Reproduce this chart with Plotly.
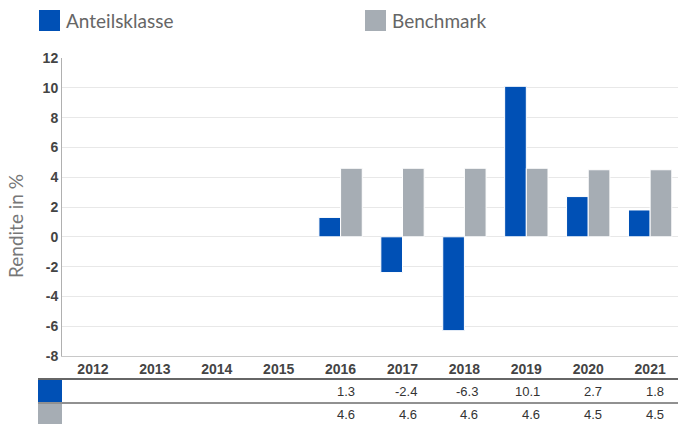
import plotly.graph_objects as go

years = ["2012", "2013", "2014", "2015", "2016", "2017", "2018", "2019", "2020", "2021"]
fund = [None, None, None, None, 1.3, -2.4, -6.3, 10.1, 2.7, 1.8]
bench = [None, None, None, None, 4.6, 4.6, 4.6, 4.6, 4.5, 4.5]
series_names = ["Anteilsklasse", "Benchmark"]
y_ticks = [-8, -6, -4, -2, 0, 2, 4, 6, 8, 10, 12]
y_title = "Rendite in %"

BLUE = "#0050B5"
GRAY = "#A6ADB4"

W, H = 678, 424
L, R, T, B = 62, 0, 58, 68
PW, PH = W - L - R, H - T - B


def px(x):
    return (x - L) / PW


def py(y):
    return (H - B - y) / PH


fig = go.Figure()
fig.add_trace(go.Bar(x=years, y=fund, name=series_names[0], marker=dict(color=BLUE, line=dict(color="white", width=1))))
fig.add_trace(go.Bar(x=years, y=bench, name=series_names[1], marker=dict(color=GRAY, line=dict(color="white", width=1))))

shapes = []
annotations = []

LEG_FONT = "Lato, Open Sans, sans-serif"

# legend
for sx, color, name in [(39, BLUE, series_names[0]), (365, GRAY, series_names[1])]:
    shapes.append(dict(type="rect", xref="paper", yref="paper", x0=px(sx), x1=px(sx + 21),
                       y0=py(31), y1=py(10), fillcolor=color, line=dict(width=0)))
    annotations.append(dict(xref="paper", yref="paper", x=px(sx + 25), y=py(21), text=name,
                            showarrow=False, xanchor="left", yanchor="middle",
                            font=dict(family=LEG_FONT, size=19, color="#666")))

# y-axis title
annotations.append(dict(xref="paper", yref="paper", x=px(15), y=py(226), text=y_title, textangle=-90,
                        showarrow=False, xanchor="center", yanchor="middle",
                        font=dict(family=LEG_FONT, size=19, color="#777")))

# table
shapes.append(dict(type="line", xref="paper", yref="paper", x0=px(38), x1=px(678), y0=py(379), y1=py(379),
                   line=dict(color="#333", width=1.5)))
shapes.append(dict(type="line", xref="paper", yref="paper", x0=px(38), x1=px(678), y0=py(403), y1=py(403),
                   line=dict(color="#222", width=1)))
shapes.append(dict(type="rect", xref="paper", yref="paper", x0=px(38), x1=px(62), y0=py(402), y1=py(380),
                   fillcolor=BLUE, line=dict(width=0)))
shapes.append(dict(type="rect", xref="paper", yref="paper", x0=px(38), x1=px(62), y0=py(424), y1=py(404),
                   fillcolor=GRAY, line=dict(width=0)))

for row_vals, ypix in [(fund, 391), (bench, 415)]:
    for i, v in enumerate(row_vals):
        if v is None:
            continue
        annotations.append(dict(xref="x", yref="paper", x=i, xshift=16, y=py(ypix), text=f"{v:.1f}",
                                showarrow=False, xanchor="right", yanchor="middle",
                                font=dict(family="Liberation Sans, Arial", size=13, color="#333")))

fig.update_layout(
    width=W, height=H,
    margin=dict(l=L, r=R, t=T, b=B, autoexpand=False),
    paper_bgcolor="white", plot_bgcolor="white",
    barmode="group", bargap=0.3, bargroupgap=0,
    showlegend=False,
    shapes=shapes, annotations=annotations,
    xaxis=dict(type="category", categoryorder="array", categoryarray=years, range=[-0.5, 9.45],
               showline=True, linecolor="#c8c8c8", linewidth=1, showgrid=False, automargin=False,
               tickfont=dict(family="Liberation Sans, Arial", size=14, color="#444", weight=700),
               ticks=""),
    yaxis=dict(range=[-8, 12], tickvals=y_ticks, ticktext=[str(v) for v in y_ticks],
               showgrid=True, gridcolor="#e8e8e8", gridwidth=1, automargin=False,
               zeroline=False, showline=True, linecolor="#b0b0b0", linewidth=1,
               tickfont=dict(family="Liberation Sans, Arial", size=14, color="#444", weight=700),
               ticks=""),
)

fig.write_html("out.html", config={"displayModeBar": False},
               post_script="document.body.style.margin='0';document.body.style.overflow='hidden';")
